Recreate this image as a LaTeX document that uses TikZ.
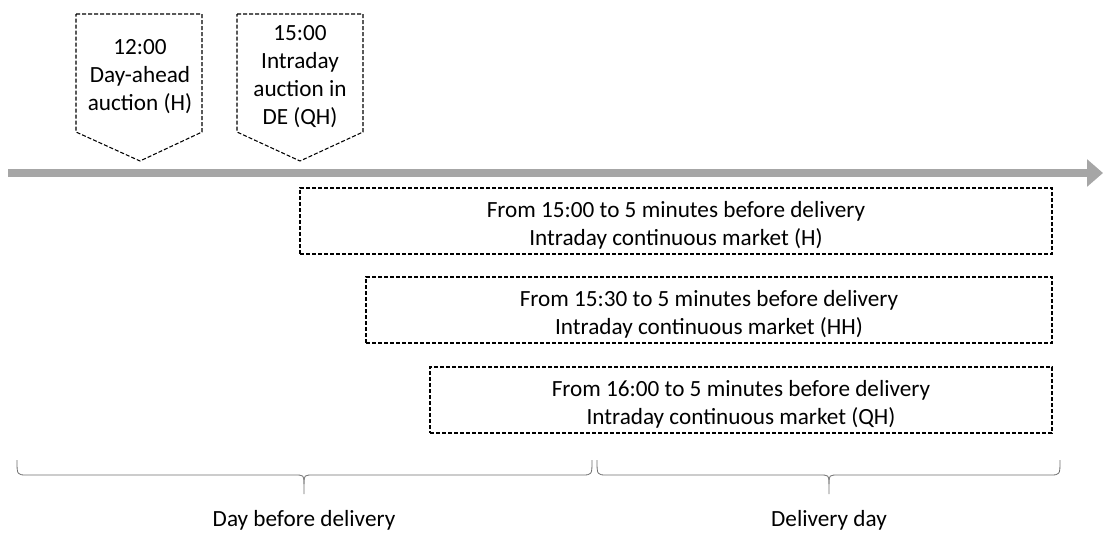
\documentclass[tikz,border=0pt]{standalone}
\usepackage{fontspec}
\setmainfont{Carlito}
\usepackage{tikz}
\usetikzlibrary{arrows.meta,positioning,calc}
\definecolor{timegray}{RGB}{166,166,166}
\definecolor{bracegray}{RGB}{110,110,110}
\tikzset{
  mktbox/.style={draw,dashed,dash pattern=on 3pt off 1.5pt,line width=0.8pt,
    minimum height=49.5pt,inner sep=0pt},
  auctext/.style={align=center,inner sep=0pt},
  flag/.style={draw,dashed,dash pattern=on 3pt off 1.5pt,line width=0.8pt},
  bracepath/.style={bracegray,line width=0.6pt},
}
\begin{document}
\begin{tikzpicture}[x=0.75pt,y=-0.75pt,font=\fontsize{17.4}{21}\selectfont]
                \useasboundingbox (0,0) rectangle (1103,532);
                % time axis
                \coordinate (tstart) at (8,173);
                \coordinate (tend) at (1103,173);
                \draw[timegray,line width=6pt,-{Triangle[length=12pt,width=20pt]}] (tstart) -- (tend);
                % auctions
                \draw[flag] (76,14) -- (202,14) -- (202,132) -- (140,161) -- (76,132) -- cycle;
                \node[auctext] (dayahead) at (140,77) {12:00\\Day-ahead\\auction (H)};
                \draw[flag] (237,14) -- (363,14) -- (363,132) -- (300,161) -- (237,132) -- cycle;
                \node[auctext] (idauction) at (300,77) {15:00\\Intraday\\auction in\\DE (QH)};
                % continuous markets
                \node[mktbox,minimum width=564pt] (contH) at (676,221) {};
                \node[mktbox,minimum width=514.5pt] (contHH) at (709,310) {};
                \node[mktbox,minimum width=466.5pt] (contQH) at (741,400) {};
                \node[auctext] (contHtxt) at ([yshift=-3pt]contH.center)
                    {From 15:00 to 5 minutes before delivery\\Intraday continuous market (H)};
                \node[auctext] (contHHtxt) at ([yshift=-3pt]contHH.center)
                    {From 15:30 to 5 minutes before delivery\\Intraday continuous market (HH)};
                \node[auctext] (contQHtxt) at ([yshift=-3pt]contQH.center)
                    {From 16:00 to 5 minutes before delivery\\Intraday continuous market (QH)};
                % braces
                \draw[bracepath] (17,460) .. controls (17,475) .. (27,475) -- (294,475)
                    .. controls (304,475) .. (304,484) -- (304,494);
                \draw[bracepath] (304,484) .. controls (304,475) .. (314,475) -- (582,475)
                    .. controls (592,475) .. (592,460);
                \draw[bracepath] (597,460) .. controls (597,475) .. (607,475) -- (819,475)
                    .. controls (829,475) .. (829,484) -- (829,494);
                \draw[bracepath] (829,484) .. controls (829,475) .. (839,475) -- (1050,475)
                    .. controls (1060,475) .. (1060,460);
                \node (daybefore) at (304,520) {Day before delivery};
                \node (delivday) at (829,520) {Delivery day};
            \end{tikzpicture}
\end{document}
